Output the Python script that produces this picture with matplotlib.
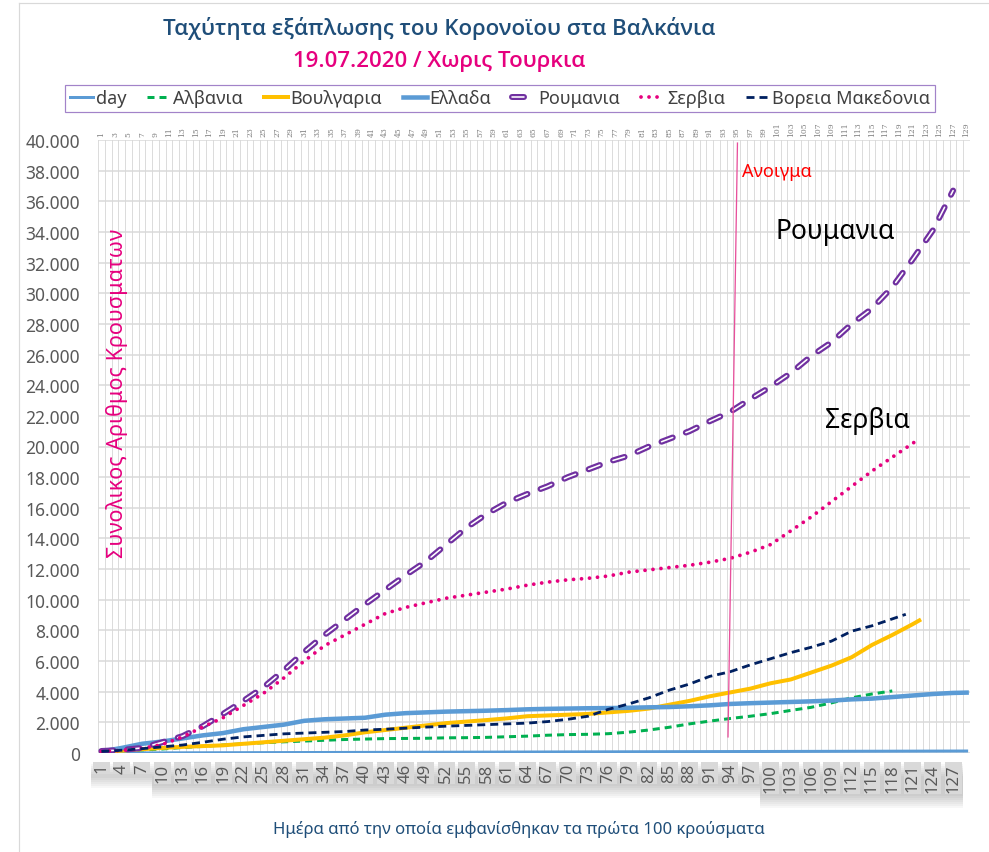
import numpy as np
import matplotlib
matplotlib.use("Agg")
import matplotlib.pyplot as plt
import matplotlib.transforms as mtransforms
from matplotlib.patches import Rectangle
from matplotlib.lines import Line2D

plt.rcParams['font.family'] = ['Noto Sans', 'DejaVu Sans']
plt.rcParams['lines.scale_dashes'] = False

W, H, DPI = 989, 853, 100
PT = 72 / DPI  # points per pixel

# categories: day counted from the first 100 cases
day_numbers = list(range(1, 130))
sample_days = [1, 4, 7, 10, 13, 16, 19, 22, 25, 28, 31, 34, 37, 40, 43, 46, 49, 52,
               55, 58, 61, 64, 67, 70, 73, 76, 79, 82, 85, 88, 91, 94, 97, 100, 103,
               106, 109, 112, 115, 118, 121, 124, 127]

romania = [130, 200, 330, 700, 1100, 1750, 2550, 3400, 4300, 5400, 6600, 7700, 8700,
           9700, 10650, 11600, 12500, 13600, 14700, 15600, 16350, 16900, 17400, 18000,
           18500, 19000, 19400, 20000, 20500, 21000, 21650, 22250, 23100, 23900, 24800,
           25900, 26800, 28000, 29000, 30400, 32200, 34100, 36700]
serbia = [100, 170, 300, 550, 1050, 1700, 2300, 3100, 3900, 4900, 6000, 7000, 7700,
          8400, 9100, 9500, 9800, 10100, 10300, 10500, 10700, 10950, 11150, 11300,
          11400, 11550, 11800, 11950, 12100, 12250, 12450, 12700, 13100, 13600, 14500,
          15400, 16400, 17400, 18400, 19300, 20200]
serbia_end = (122, 20500)
greece = [100, 330, 600, 750, 950, 1150, 1300, 1550, 1700, 1850, 2100, 2200, 2250,
          2300, 2500, 2600, 2650, 2700, 2730, 2760, 2800, 2850, 2880, 2900, 2920, 2930,
          2950, 2980, 3000, 3050, 3110, 3200, 3250, 3290, 3330, 3370, 3420, 3500, 3550,
          3650, 3750, 3850, 3920]
greece_end = (129, 3940)
bulgaria = [100, 150, 250, 330, 400, 450, 500, 600, 700, 800, 900, 1000, 1150, 1350,
            1500, 1650, 1800, 1950, 2050, 2150, 2260, 2400, 2450, 2500, 2550, 2650,
            2750, 2900, 3150, 3400, 3700, 3950, 4200, 4550, 4800, 5250, 5700, 6250,
            7050, 7700, 8400]
bulgaria_end = (122, 8650)
macedonia = [100, 180, 280, 400, 520, 700, 900, 1050, 1150, 1250, 1300, 1350, 1400,
             1500, 1550, 1620, 1690, 1750, 1800, 1850, 1900, 1950, 2050, 2200, 2400,
             2850, 3200, 3600, 4100, 4500, 5000, 5300, 5750, 6150, 6550, 6900, 7300,
             7950, 8300, 8750]
macedonia_end = (120, 9050)
albania = [100, 150, 200, 260, 360, 430, 520, 600, 670, 730, 780, 830, 880, 910, 940,
           950, 960, 990, 1000, 1020, 1060, 1100, 1160, 1200, 1220, 1260, 1360, 1500,
           1680, 1900, 2080, 2250, 2400, 2570, 2780, 2980, 3270, 3600, 3850, 4050]

# "opening" marker line (drawn slightly slanted in the original)
opening_days = [95.1, 93.7]
opening_values = [39800, 1050]

legend_labels = ['day', 'Αλβανια', 'Βουλγαρια', 'Ελλαδα', 'Ρουμανια', 'Σερβια',
                 'Βορεια Μακεδονια']


def series(vals, end=None):
    d = sample_days[:len(vals)]
    v = list(vals)
    if end is not None:
        d = d + [end[0]]
        v = v + [end[1]]
    return d, v


fig = plt.figure(figsize=(W / DPI, H / DPI), dpi=DPI)
ax_h_px = 613
ax = fig.add_axes([98 / W, 1 - 754 / H, 872 / W, ax_h_px / H])
ax.set_xlim(0.5, 129.5)
ax.set_ylim(0, 40000)
for s in ax.spines.values():
    s.set_visible(False)

# grid
ax.set_yticks(range(0, 40001, 2000))
ax.set_yticklabels([f"{v:,}".replace(",", ".") for v in range(0, 40001, 2000)])
ax.tick_params(axis='y', length=0, pad=13, labelsize=12.5, labelcolor='#595959')
ax.set_xticks(np.arange(0.5, 130, 1), minor=True)
ax.grid(axis='y', which='major', color='#D9D9D9', lw=1.5 * PT)
ax.grid(axis='x', which='minor', color='#DCDCDC', lw=1.0 * PT)
ax.tick_params(axis='x', which='minor', length=0)
ax.set_axisbelow(True)

# top category labels
ax.xaxis.tick_top()
odd = day_numbers[::2]
ax.set_xticks(odd)
ax.set_xticklabels([str(d) for d in odd], family=['DejaVu Serif'])
ax.tick_params(axis='x', which='major', length=0, pad=3, labelsize=5.5,
               labelrotation=90, labelcolor='#7F7F7F')

# series
l_day, = ax.plot(day_numbers, day_numbers, color='#5B9BD5', lw=3 * PT)
d, v = series(albania)
l_alb, = ax.plot(d, v, color='#00B050', lw=3 * PT, dashes=(7 * PT, 5 * PT))
d, v = series(bulgaria, bulgaria_end)
l_bul, = ax.plot(d, v, color='#FFC000', lw=4 * PT, solid_joinstyle='round')
d, v = series(greece, greece_end)
l_gre, = ax.plot(d, v, color='#5B9BD5', lw=4.5 * PT)
d, v = series(romania)
l_rom_o, = ax.plot(d, v, color='#7030A0', lw=6 * PT, dashes=(12 * PT, 14 * PT),
                   dash_capstyle='round')
l_rom_i, = ax.plot(d, v, color='white', lw=1.6 * PT, dashes=(12 * PT, 14 * PT),
                   dash_capstyle='round')
d, v = series(serbia, serbia_end)
l_ser, = ax.plot(d, v, color='#E6007E', lw=3.8 * PT, dashes=(0.01, 8 * PT),
                 dash_capstyle='round')
d, v = series(macedonia, macedonia_end)
l_mac, = ax.plot(d, v, color='#002060', lw=2.8 * PT, dashes=(8 * PT, 5 * PT))

# opening line and notes
ax.plot(opening_days, opening_values, color='#E8509C', lw=1.3 * PT)
ax.text(101, 38000, 'Ανοιγμα', color='#FF0000', fontsize=13, ha='center', va='center')
ax.text(109.5, 34050, 'Ρουμανια', color='black', fontsize=19, ha='center', va='center')
ax.text(114.4, 21760, 'Σερβια', color='black', fontsize=19, ha='center', va='center')

fig.text(117 / W, 1 - 393 / H, 'Συνολικος Αριθμος Κρουσματων', color='#E6007E',
         fontsize=15.5, rotation=90, ha='center', va='center')

# bottom category labels with grey boxes and soft shadow
blend = mtransforms.blended_transform_factory(ax.transData, ax.transAxes)
top_off = 9 / ax_h_px
for dd in day_numbers[::3]:
    lab = str(dd)
    hpx = len(lab) * 10 + 2
    y0 = -top_off - hpx / ax_h_px
    for k in range(1, 8):
        ax.add_patch(Rectangle((dd - 1.5, y0 - k * 2 / ax_h_px), 3.0, hpx / ax_h_px,
                               transform=blend, facecolor='#404040', alpha=0.04,
                               edgecolor='none', clip_on=False, zorder=1))
    ax.add_patch(Rectangle((dd - 1.25, y0), 2.5, hpx / ax_h_px, transform=blend,
                           facecolor='#D9D9D9', edgecolor='none', clip_on=False, zorder=2))
    ax.text(dd, -top_off - 1 / ax_h_px, lab, transform=blend, rotation=90, ha='center',
            va='top', fontsize=12, color='#595959', zorder=3)

# legend
handles = [l_day, l_alb, l_bul, l_gre, (l_rom_o, l_rom_i), l_ser, l_mac]
leg = fig.legend(handles, legend_labels, loc='lower left',
                 bbox_to_anchor=(65 / W, 1 - 113 / H, 870 / W, 29 / H), mode='expand',
                 ncol=7, fontsize=13, handlelength=1.3, handletextpad=0.15,
                 borderpad=0.25, fancybox=False, framealpha=1, borderaxespad=0)
leg.get_frame().set_edgecolor('#A283C9')
leg.get_frame().set_linewidth(1.2 * PT)
for t in leg.get_texts():
    t.set_color('#404040')

# titles and axis title
title_font = ['Open Sans', 'DejaVu Sans']
fig.text(439 / W, 1 - 28 / H, 'Ταχύτητα εξάπλωσης του Κορονοϊου στα Βαλκάνια',
         color='#1F4E79', fontsize=16, ha='center', va='center', fontweight='semibold',
         family=title_font)
fig.text(439 / W, 1 - 62 / H, '19.07.2020 / Χωρις Τουρκια', color='#E6007E',
         fontsize=16, ha='center', va='center', fontweight='semibold', family=title_font)
fig.text(519 / W, 1 - 830 / H, 'Ημέρα από την οποία εμφανίσθηκαν τα πρώτα 100 κρούσματα',
         color='#1F4E79', fontsize=12, ha='center', va='center')

# chart frame
fig.add_artist(Line2D([19 / W, 1], [1 - 4 / H, 1 - 4 / H], transform=fig.transFigure,
                      color='#D9D9D9', lw=1.2 * PT))
fig.add_artist(Line2D([19 / W, 19 / W], [0, 1 - 4 / H], transform=fig.transFigure,
                      color='#D9D9D9', lw=1.2 * PT))

fig.savefig('out.png', dpi=DPI)
